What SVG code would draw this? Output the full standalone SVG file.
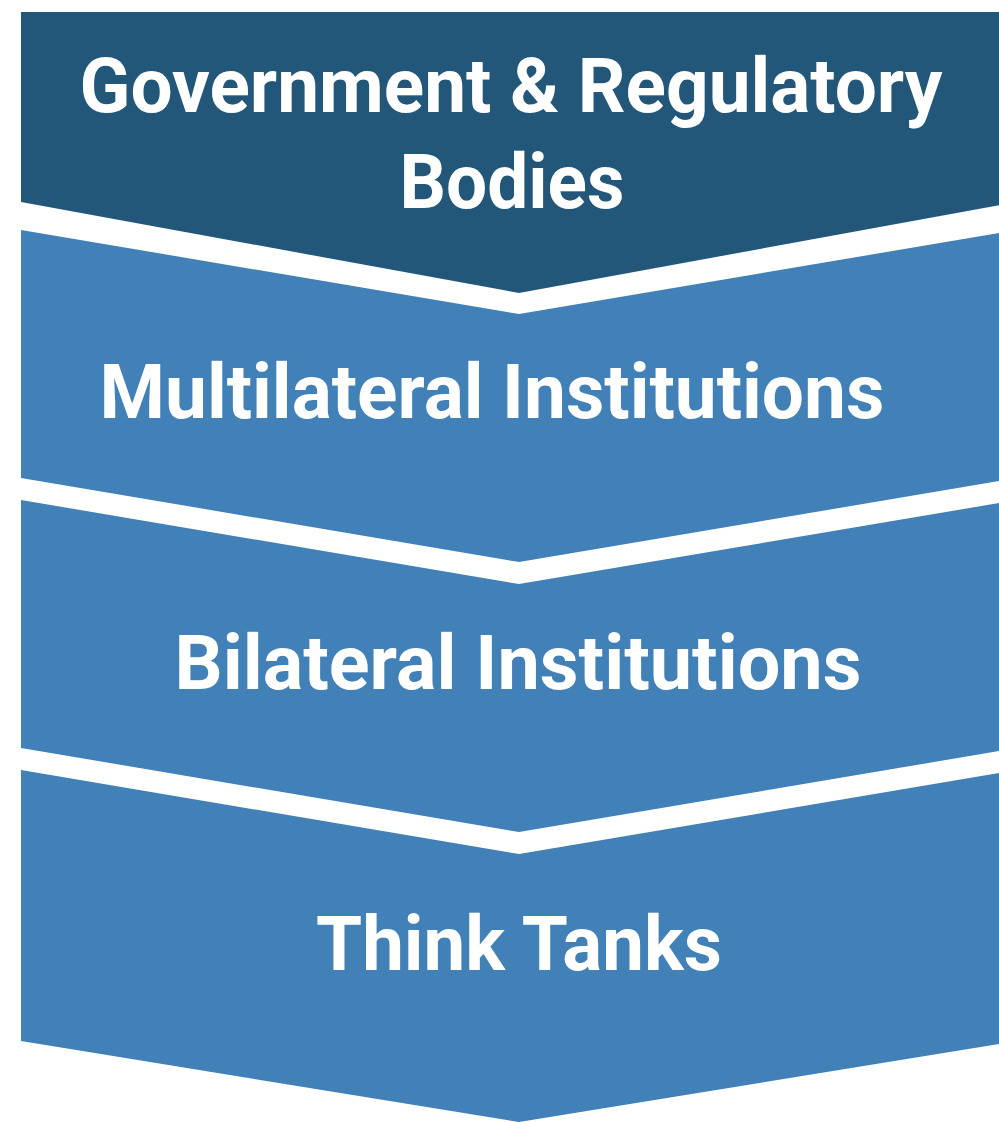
<svg xmlns="http://www.w3.org/2000/svg" width="999" height="1122" viewBox="0 0 999 1122">
  <style>
    .dark { fill: #22577A; }
    .light { fill: #4181B7; }
    .label { fill: #FFFFFF; font-family: Roboto, "Liberation Sans", sans-serif; font-weight: 700; font-size: 76px; text-anchor: middle; }
  </style>
  <rect width="999" height="1122" fill="#FFFFFF"/>
  <g id="nodes">
    <g id="government">
      <polygon class="dark" points="21,12 1017,12 1017,202 519,293 21,202"/>
      <text class="label" x="511" y="112" textLength="863" lengthAdjust="spacingAndGlyphs">Government &amp; Regulatory</text>
      <text class="label" x="512" y="208" textLength="225" lengthAdjust="spacingAndGlyphs">Bodies</text>
    </g>
    <g id="multilateral">
      <polygon class="light" points="21,230 519,314 1017,230 1017,478 519,562 21,478"/>
      <text class="label" x="492" y="418" textLength="785" lengthAdjust="spacingAndGlyphs">Multilateral Institutions</text>
    </g>
    <g id="bilateral">
      <polygon class="light" points="21,500 519,584 1017,500 1017,748 519,832 21,748"/>
      <text class="label" x="518" y="689" textLength="687" lengthAdjust="spacingAndGlyphs">Bilateral Institutions</text>
    </g>
    <g id="think-tanks">
      <polygon class="light" points="21,770 519,854 1017,770 1017,1041 519,1122 21,1041"/>
      <text class="label" x="519" y="970" textLength="406" lengthAdjust="spacingAndGlyphs">Think Tanks</text>
    </g>
  </g>
  <g id="connectors"/>
</svg>
